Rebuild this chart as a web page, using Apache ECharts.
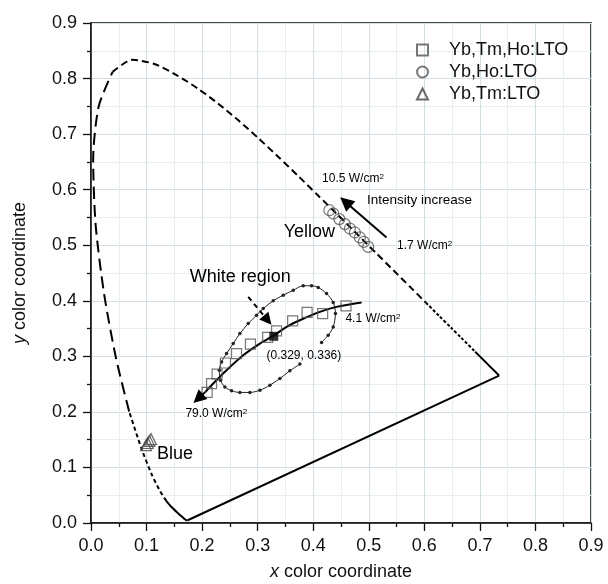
<!DOCTYPE html>
<html><head><meta charset="utf-8">
<script src="https://cdn.jsdelivr.net/npm/echarts@6/dist/echarts.min.js"></script>
<style>html,body{margin:0;padding:0;background:#fff}#c{width:608px;height:584px}</style>
</head><body><div id="c"></div>
<script>
// CIE 1931 spectral locus: [wavelength nm, x, y]
const spectralLocus = [
  [380,0.1741,0.0050],[400,0.1733,0.0048],[420,0.1714,0.0051],[430,0.1689,0.0069],
  [440,0.1644,0.0109],[450,0.1566,0.0177],[460,0.1440,0.0297],[465,0.1355,0.0399],
  [470,0.1241,0.0578],[475,0.1096,0.0868],[480,0.0913,0.1327],[485,0.0687,0.2007],
  [490,0.0454,0.2950],[495,0.0235,0.4127],[500,0.0082,0.5384],[505,0.0039,0.6548],
  [510,0.0139,0.7502],[515,0.0389,0.8120],[520,0.0743,0.8338],[525,0.1142,0.8262],
  [530,0.1547,0.8059],[535,0.1929,0.7816],[540,0.2296,0.7543],[545,0.2658,0.7243],
  [550,0.3016,0.6923],[555,0.3373,0.6589],[560,0.3731,0.6245],[565,0.4087,0.5896],
  [570,0.4441,0.5547],[575,0.4788,0.5202],[580,0.5125,0.4866],[585,0.5448,0.4544],
  [590,0.5752,0.4242],[595,0.6029,0.3965],[600,0.6270,0.3725],[605,0.6482,0.3514],
  [610,0.6658,0.3340],[620,0.6915,0.3083],[630,0.7079,0.2920],[640,0.7190,0.2809],
  [650,0.7260,0.2740],[700,0.7347,0.2653]
];

// Yb,Tm,Ho:LTO chromaticity points (4.1 -> 79.0 W/cm2)
const tmHoYb = [
  [0.459,0.391],[0.417,0.377],[0.389,0.379],[0.363,0.364],[0.334,0.346],[0.318,0.334],
  [0.287,0.322],[0.262,0.305],[0.242,0.288],[0.227,0.268],[0.217,0.251],[0.209,0.235]
];
const whitePoint = [[0.329,0.336]];
// Yb,Ho:LTO (1.7 -> 10.5 W/cm2)
const hoYb = [
  [0.429,0.563],[0.436,0.557],[0.447,0.547],[0.457,0.538],[0.466,0.530],
  [0.475,0.523],[0.484,0.514],[0.491,0.506],[0.499,0.497]
];
// Yb,Tm:LTO
const tmYb = [[0.099,0.140],[0.102,0.144],[0.105,0.148],[0.108,0.151]];

// trend through the Yb,Tm,Ho:LTO points
const trendLine = [
  [0.487,0.397],[0.442,0.389],[0.412,0.380],[0.376,0.365],[0.352,0.353],[0.330,0.338],
  [0.304,0.323],[0.274,0.302],[0.244,0.275],[0.220,0.251],[0.206,0.236]
];
const trendArrow = [[0.206,0.236],[0.193,0.224]];

// outline of the white region
const whiteRegion = [
  [0.415,0.325],[0.427,0.338],[0.436,0.353],[0.440,0.377],[0.436,0.397],[0.424,0.413],
  [0.409,0.424],[0.397,0.427],[0.382,0.427],[0.364,0.419],[0.346,0.410],[0.328,0.400],
  [0.310,0.386],[0.298,0.374],[0.283,0.359],[0.268,0.341],[0.256,0.323],[0.244,0.305],
  [0.235,0.290],[0.231,0.275],[0.233,0.257],[0.241,0.245],[0.253,0.238],[0.268,0.235],
  [0.286,0.235],[0.304,0.239],[0.322,0.248],[0.340,0.260],[0.358,0.274],[0.376,0.286]
];
const whiteArrow = [[0.283,0.407],[0.318,0.365]];
const intensityArrow = [[0.532,0.514],[0.458,0.578]];

// text annotations: [x, y, text] (left edge, vertical middle)
const bigNotes = [
  [0.346,0.524,'Yellow'],
  [0.177,0.442,'White region'],
  [0.118,0.125,'Blue']
];
const smallNotes = [
  [0.415,0.619,'10.5 W/cm{s|2}'],
  [0.550,0.499,'1.7 W/cm{s|2}'],
  [0.457,0.368,'4.1 W/cm{s|2}'],
  [0.169,0.197,'79.0 W/cm{s|2}'],
  [0.315,0.302,'(0.329, 0.336)']
];
const midNotes = [[0.496,0.581,'Intensity increase']];

const legendNames = ['Yb,Tm,Ho:LTO','Yb,Ho:LTO','Yb,Tm:LTO'];
const tickValues = [0,0.1,0.2,0.3,0.4,0.5,0.6,0.7,0.8,0.9];

const FONT = '"Liberation Sans", Arial, sans-serif';
const locusPart = (lo, hi) => spectralLocus.filter(p => p[0] >= lo && p[0] <= hi).map(p => [p[1], p[2]]);
const purpleLine = [[spectralLocus[0][1], spectralLocus[0][2]],
  [spectralLocus[spectralLocus.length-1][1], spectralLocus[spectralLocus.length-1][2]]];

function locusSeries(lo, hi, dash, width) {
  return {
    type: 'line', data: locusPart(lo, hi), smooth: 0.25, showSymbol: false, silent: true,
    lineStyle: {color: '#000', width: width || 2, type: dash}, z: 2
  };
}
function noteSeries(list, size) {
  return {
    type: 'scatter', silent: true, symbolSize: 1, itemStyle: {color: '#fff', opacity: 1}, z: 10,
    data: list.map(n => ({value: [n[0], n[1]], name: n[2]})),
    label: {
      show: true, position: 'right', distance: 0, formatter: '{b}', opacity: 1,
      fontFamily: FONT, fontSize: size, color: '#000', textBorderWidth: 0,
      rich: {s: {fontFamily: FONT, fontSize: 8, verticalAlign: 'top', color: '#000'}}
    }
  };
}
function arrowSeries(seg, dash, size) {
  return {
    type: 'lines', coordinateSystem: 'cartesian2d', silent: true, z: 6,
    symbol: ['none', 'triangle'], symbolSize: size,
    lineStyle: {color: '#000', width: 2, type: dash, opacity: 1},
    data: [{coords: seg}]
  };
}
const axisCommon = {
  type: 'value', min: 0, max: 0.9, interval: 0.1,
  axisLine: {show: true, onZero: false, lineStyle: {color: '#111', width: 1.5}},
  axisTick: {show: true, inside: false, length: 8, lineStyle: {color: '#111', width: 1.3}},
  minorTick: {show: true, splitNumber: 2, length: 4, lineStyle: {color: '#111', width: 1.3}},
  splitLine: {show: true, lineStyle: {color: '#d2e0e6', width: 1}},
  minorSplitLine: {show: true, lineStyle: {color: '#e8eff2', width: 1}},
  axisLabel: {fontFamily: FONT, fontSize: 18, color: '#111', margin: 14,
    formatter: v => tickValues.some(t => Math.abs(t - v) < 1e-9) ? v.toFixed(1) : ''},
  nameLocation: 'middle',
  nameTextStyle: {fontFamily: FONT, fontSize: 18, color: '#111',
    rich: {i: {fontFamily: FONT, fontSize: 18, fontStyle: 'italic', color: '#111'}}}
};

const chart = echarts.init(document.getElementById('c'), null, {renderer: 'canvas'});
chart.setOption({
  animation: false,
  backgroundColor: '#fff',
  grid: {left: 91, top: 23, right: 17, bottom: 61, show: true, borderColor: '#111', borderWidth: 1.5,
         containLabel: false, outerBoundsMode: 'none'},
  xAxis: Object.assign({}, axisCommon, {name: '{i|x} color coordinate', nameGap: 40}),
  yAxis: Object.assign({}, axisCommon, {name: '{i|y} color coordinate', nameGap: 62}),
  legend: {
    data: legendNames, orient: 'vertical', left: 411, top: 36, itemWidth: 11, itemHeight: 11,
    itemGap: 4, selectedMode: false,
    textStyle: {fontFamily: FONT, fontSize: 18, color: '#111', padding: [0, 0, 0, 16]}
  },
  series: [
    locusSeries(380, 465, 'solid'),
    locusSeries(465, 485, [4, 3]),
    locusSeries(485, 515, [12, 6]),
    locusSeries(515, 595, [7, 4]),
    locusSeries(595, 625, [3, 2]),
    locusSeries(620, 700, 'solid'),
    {type: 'line', data: purpleLine, showSymbol: false, silent: true,
     lineStyle: {color: '#000', width: 2}, z: 2},
    {type: 'line', data: whiteRegion, smooth: 0.3, symbol: 'circle', symbolSize: 3.5, showSymbol: true,
     silent: true, itemStyle: {color: '#222'}, lineStyle: {color: '#222', width: 1}, z: 3},
    {type: 'line', data: trendLine, smooth: 0.3, showSymbol: false, silent: true,
     lineStyle: {color: '#000', width: 2}, z: 4},
    arrowSeries(trendArrow, 'solid', 13),
    arrowSeries(intensityArrow, 'solid', 14),
    arrowSeries(whiteArrow, [5, 4], 12),
    {name: legendNames[0], type: 'scatter', symbol: 'rect', symbolSize: 10, data: tmHoYb, silent: true,
     itemStyle: {color: 'rgba(255,255,255,0)', borderColor: '#555', borderWidth: 1.2}, z: 5},
    {name: legendNames[1], type: 'scatter', symbol: 'circle', symbolSize: 11, data: hoYb, silent: true,
     itemStyle: {color: 'rgba(255,255,255,0)', borderColor: '#555', borderWidth: 1.2}, z: 5},
    {name: legendNames[2], type: 'scatter', symbol: 'triangle', symbolSize: 11, data: tmYb, silent: true,
     itemStyle: {color: 'rgba(255,255,255,0)', borderColor: '#444', borderWidth: 1.2}, z: 5},
    {type: 'scatter', symbol: 'rect', symbolSize: 9, data: whitePoint, silent: true,
     itemStyle: {color: '#000'}, z: 7},
    noteSeries(bigNotes, 18),
    noteSeries(midNotes, 13.5),
    noteSeries(smallNotes, 12)
  ]
});
</script>
</body></html>
